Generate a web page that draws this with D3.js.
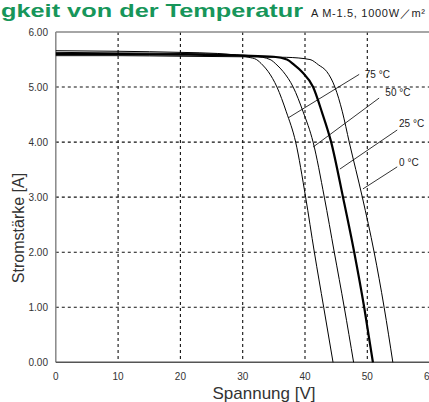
<!DOCTYPE html>
<html>
<head>
<meta charset="utf-8">
<script src="https://cdn.jsdelivr.net/npm/d3@7/dist/d3.min.js"></script>
<style>
  html, body { margin: 0; padding: 0; background: #fff; }
  svg { display: block; font-family: "Liberation Sans", Arial, sans-serif; }
</style>
</head>
<body>
<svg id="chart" width="429" height="402"></svg>
<script>
// I-V curves: [voltage V, current A]
const curve75 = [[0,5.66],[10,5.65],[20,5.63],[26,5.61],[29,5.58],[31,5.54],[32.2,5.50],[33.2,5.40],[34.1,5.28],[35.5,5.0],[37.0,4.55],[38.5,4.0],[40.1,3.0],[41.5,2.0],[43.0,1.0],[44.5,0]];
const curve50 = [[0,5.63],[10,5.62],[20,5.61],[28,5.59],[32,5.56],[34.4,5.50],[35.5,5.40],[36.5,5.28],[38.1,5.0],[39.7,4.55],[41.3,4.0],[43.1,3.0],[44.7,2.0],[46.3,1.0],[47.8,0]];
const curve25 = [[0,5.60],[10,5.60],[20,5.59],[30,5.57],[35,5.55],[37.1,5.50],[38.3,5.40],[39.5,5.28],[41.3,5.0],[42.7,4.55],[44.2,4.0],[46.1,3.0],[47.9,2.0],[49.5,1.0],[50.9,0]];
const curve0 = [[0,5.57],[10,5.57],[20,5.56],[30,5.55],[37,5.54],[40.8,5.50],[42.2,5.40],[43.5,5.28],[44.8,5.0],[46.0,4.55],[47.1,4.0],[49.2,3.0],[51.1,2.0],[52.7,1.0],[54.1,0]];

const series = [
  { name: "75 °C", pts: curve75, bold: false },
  { name: "50 °C", pts: curve50, bold: false },
  { name: "25 °C", pts: curve25, bold: true },
  { name: "0 °C", pts: curve0, bold: false },
];

// leader lines: from curve point to label point (data units)
const leaders = [
  { label: "75 °C", from: [37.3, 4.44], to: [48.7, 5.23], text: [49.6, 5.16] },
  { label: "50 °C", from: [41.3, 3.91], to: [51.9, 4.80], text: [52.9, 4.84] },
  { label: "25 °C", from: [45.6, 3.51], to: [54.8, 4.22], text: [55.1, 4.27] },
  { label: "0 °C", from: [49.3, 3.15], to: [54.8, 3.55], text: [55.1, 3.57] },
];

const xTicks = [0, 10, 20, 30, 40, 50, 60];
const yTicks = [0, 1, 2, 3, 4, 5, 6];

const svg = d3.select("#chart");
const x = d3.scaleLinear().domain([0, 60]).range([55.8, 429.6]);
const y = d3.scaleLinear().domain([0, 6]).range([362.3, 32]);

// title (only its tail is visible in the source); wide bold face
svg.append("text")
  .attr("x", 1).attr("y", 17)
  .attr("font-size", "19px").attr("font-weight", "bold")
  .attr("textLength", 302).attr("lengthAdjust", "spacingAndGlyphs")
  .attr("fill", "#17965a")
  .text("gkeit von der Temperatur");

svg.append("text")
  .attr("x", 311).attr("y", 17)
  .attr("font-size", "11px").attr("fill", "#222")
  .attr("textLength", 114).attr("lengthAdjust", "spacing")
  .text("A M-1.5,  1000W／m²");

// grid
const grid = svg.append("g");
grid.selectAll(".vg")
  .data(xTicks.filter((d) => d > 0 && d < 60))
  .join("line")
  .attr("x1", (d) => x(d)).attr("x2", (d) => x(d))
  .attr("y1", y(6)).attr("y2", y(0))
  .attr("stroke", "#111").attr("stroke-width", 1.1)
  .attr("stroke-dasharray", "3 3");
grid.selectAll(".hg")
  .data(yTicks.filter((d) => d > 0 && d < 6))
  .join("line")
  .attr("x1", x(0)).attr("x2", x(60))
  .attr("y1", (d) => y(d)).attr("y2", (d) => y(d))
  .attr("stroke", "#111").attr("stroke-width", 1.1)
  .attr("stroke-dasharray", "3 3");

// frame
svg.append("line").attr("x1", x(0)).attr("x2", x(60)).attr("y1", y(6)).attr("y2", y(6))
  .attr("stroke", "#888").attr("stroke-width", 1.5);
svg.append("line").attr("x1", x(0)).attr("x2", x(0)).attr("y1", y(6)).attr("y2", y(0))
  .attr("stroke", "#888").attr("stroke-width", 1.5);
svg.append("line").attr("x1", x(0)).attr("x2", x(60)).attr("y1", y(0)).attr("y2", y(0))
  .attr("stroke", "#555").attr("stroke-width", 1.5);

// tick labels
svg.selectAll(".yt")
  .data(yTicks)
  .join("text")
  .attr("x", 48).attr("y", (d) => y(d) + 3.5)
  .attr("text-anchor", "end")
  .attr("font-size", "10px").attr("fill", "#333")
  .text((d) => d3.format(".2f")(d));
svg.selectAll(".xt")
  .data(xTicks)
  .join("text")
  .attr("x", (d) => x(d)).attr("y", 380)
  .attr("text-anchor", "middle")
  .attr("font-size", "10px").attr("fill", "#333")
  .text((d) => d);

// axis titles
svg.append("text")
  .attr("x", 264).attr("y", 399)
  .attr("text-anchor", "middle")
  .attr("font-size", "17px").attr("fill", "#333")
  .text("Spannung [V]");
svg.append("text")
  .attr("transform", "translate(24,228) rotate(-90)")
  .attr("text-anchor", "middle")
  .attr("font-size", "16px").attr("fill", "#333")
  .text("Stromstärke [A]");

// curves
const line = d3.line()
  .x((d) => x(d[0]))
  .y((d) => y(d[1]))
  .curve(d3.curveMonotoneX);
svg.append("g")
  .selectAll("path")
  .data(series)
  .join("path")
  .attr("d", (d) => line(d.pts))
  .attr("fill", "none")
  .attr("stroke", "#000")
  .attr("stroke-width", (d) => (d.bold ? 2.2 : 1));

// leaders and labels
svg.append("g")
  .selectAll("line")
  .data(leaders)
  .join("line")
  .attr("x1", (d) => x(d.from[0])).attr("y1", (d) => y(d.from[1]))
  .attr("x2", (d) => x(d.to[0])).attr("y2", (d) => y(d.to[1]))
  .attr("stroke", "#000").attr("stroke-width", 0.8);
svg.append("g")
  .selectAll("text")
  .data(leaders)
  .join("text")
  .attr("x", (d) => x(d.text[0])).attr("y", (d) => y(d.text[1]))
  .attr("font-size", "10px").attr("fill", "#222")
  .text((d) => d.label);
</script>
</body>
</html>
